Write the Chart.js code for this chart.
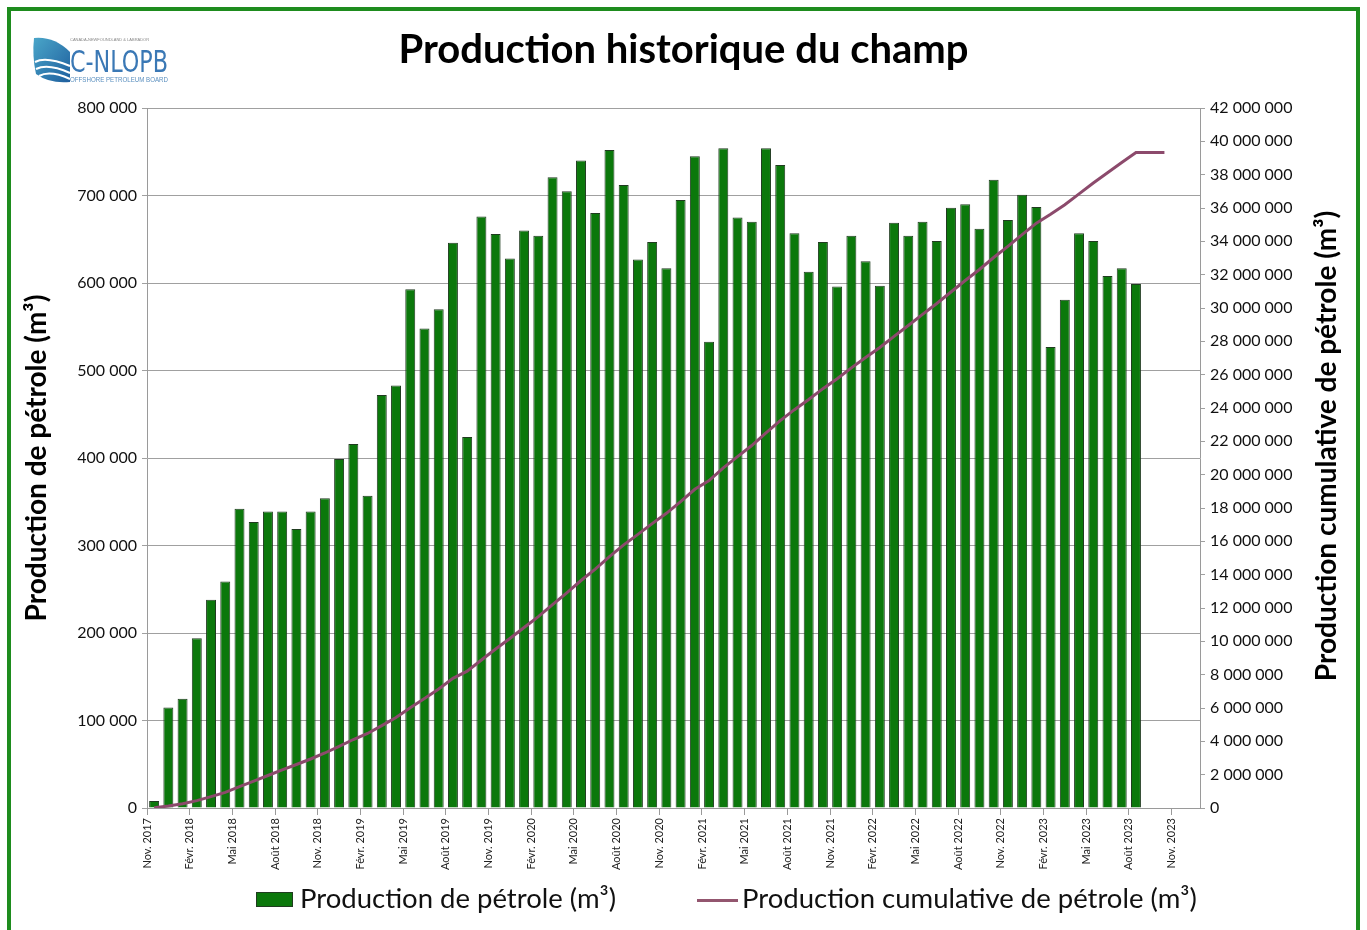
<!DOCTYPE html>
<html lang="fr">
<head>
<meta charset="utf-8">
<title>Production historique du champ</title>
<script src="https://cdn.jsdelivr.net/npm/chart.js@4.4.0/dist/chart.umd.min.js"></script>
<style>
  html, body { margin: 0; padding: 0; background: #fff; }
  body { width: 1367px; height: 930px; position: relative; overflow: hidden; font-family: Lato, sans-serif; }
  #frame { position: absolute; left: 7px; top: 7px; width: 1345px; height: 960px; border: 4px solid #1e8c1e; }
  #wrap { position: absolute; left: 0; top: 0; width: 1367px; height: 930px; }
  #logo { position: absolute; left: 30px; top: 32px; }
  .leg { position: absolute; top: 882px; height: 32px; line-height: 32px; font-size: 27.5px; color: #111; white-space: nowrap; }
  .sw-bar { position: absolute; left: 256px; top: 892px; width: 35px; height: 13px; background: #0b780b; border: 1px solid #203c20; }
  .sw-line { position: absolute; left: 697px; top: 899px; width: 41px; height: 3px; background: #93566f; }
</style>
</head>
<body>
<div id="frame"></div>
<div id="wrap"><canvas id="chart"></canvas></div>

<svg id="logo" width="145" height="56" viewBox="0 0 145 56">
  <defs>
    <linearGradient id="lg" x1="0" y1="0" x2="1" y2="1">
      <stop offset="0" stop-color="#4aa6c9"/>
      <stop offset="1" stop-color="#1f5f9e"/>
    </linearGradient>
  </defs>
  <path d="M4 6 Q24 4 40 20 L40 50 Q20 52 6 42 Q2 24 4 6 Z" fill="url(#lg)"/>
  <path d="M5 30 Q16 24 40 34" stroke="#fff" stroke-width="2" fill="none"/>
  <path d="M6 37 Q18 31 40 41" stroke="#fff" stroke-width="2" fill="none"/>
  <path d="M9 44 Q20 38 40 47" stroke="#fff" stroke-width="2" fill="none"/>
  <text x="40" y="9" font-size="4" fill="#888" font-family="Liberation Sans">CANADA-NEWFOUNDLAND &amp; LABRADOR</text>
  <text x="40" y="40" font-size="31" fill="#3a78b5" font-family="Liberation Sans Narrow, DejaVu Sans Condensed, sans-serif" textLength="98" lengthAdjust="spacingAndGlyphs">C-NLOPB</text>
  <text x="40" y="50" font-size="7" fill="#5a8fbf" font-family="Liberation Sans Narrow, sans-serif" textLength="98" lengthAdjust="spacingAndGlyphs">OFFSHORE PETROLEUM BOARD</text>
</svg>

<div class="sw-bar"></div>
<div class="leg" style="left:300px">Production de pétrole (m³)</div>
<div class="sw-line"></div>
<div class="leg" style="left:742px">Production cumulative de pétrole (m³)</div>

<script>
// axis tick labels, one every 3 months starting Nov. 2017
const tickLabels = ["Nov. 2017", "Févr. 2018", "Mai 2018", "Août 2018", "Nov. 2018", "Févr. 2019",
  "Mai 2019", "Août 2019", "Nov. 2019", "Févr. 2020", "Mai 2020", "Août 2020", "Nov. 2020",
  "Févr. 2021", "Mai 2021", "Août 2021", "Nov. 2021", "Févr. 2022", "Mai 2022", "Août 2022",
  "Nov. 2022", "Févr. 2023", "Mai 2023", "Août 2023", "Nov. 2023"];

// monthly production (m3), Nov. 2017 -> Août 2023
const production = [8000, 115000, 125000, 194000, 238000, 259000, 342000, 327000, 339000, 339000,
  319000, 339000, 354000, 399000, 416000, 357000, 472000, 483000, 593000, 548000,
  570000, 646000, 424000, 676000, 656000, 628000, 660000, 654000, 721000, 705000,
  740000, 680000, 752000, 712000, 627000, 647000, 617000, 695000, 745000, 533000,
  754000, 675000, 670000, 754000, 735000, 657000, 613000, 647000, 596000, 654000,
  625000, 597000, 669000, 654000, 670000, 648000, 686000, 690000, 662000, 718000,
  672000, 701000, 687000, 527000, 581000, 657000, 648000, 608000, 617000, 599000];

// cumulative production (m3), Nov. 2017 -> Oct. 2023
const cumulative = [10000, 120000, 250000, 440000, 680000, 940000, 1280000, 1610000, 1950000, 2290000,
  2610000, 2940000, 3300000, 3700000, 4110000, 4470000, 4940000, 5430000, 6020000, 6570000,
  7140000, 7780000, 8210000, 8880000, 9540000, 10170000, 10830000, 11480000, 12200000, 12910000,
  13650000, 14330000, 15080000, 15790000, 16420000, 17060000, 17680000, 18380000, 19120000, 19650000,
  20410000, 21080000, 21750000, 22510000, 23240000, 23900000, 24510000, 25160000, 25760000, 26410000,
  27030000, 27630000, 28300000, 28950000, 29620000, 30270000, 30960000, 31650000, 32310000, 33030000,
  33700000, 34400000, 35090000, 35620000, 36200000, 36850000, 37500000, 38110000, 38730000, 39330000,
  39330000, 39330000];

function fmt(v) {
  return String(v).replace(/\B(?=(\d{3})+(?!\d))/g, ' ');
}

Chart.defaults.font.family = 'Lato';
Chart.defaults.color = '#111';

// right axis title reads bottom-to-top like the left one
const rightTitle = {
  id: 'rightTitle',
  afterDraw(chart) {
    const ctx = chart.ctx;
    const area = chart.chartArea;
    ctx.save();
    ctx.translate(chart.scales.y1.right - 40, (area.top + area.bottom) / 2 - 12);
    ctx.rotate(-Math.PI / 2);
    ctx.font = 'bold 28px Lato';
    ctx.textAlign = 'center';
    ctx.textBaseline = 'middle';
    ctx.fillStyle = '#000';
    ctx.fillText('Production cumulative de pétrole (m³)', 0, 0);
    ctx.restore();
  }
};

new Chart(document.getElementById('chart'), {
  type: 'bar',
  data: {
    datasets: [
      {
        type: 'line',
        label: 'Production cumulative de pétrole (m³)',
        data: cumulative.map((v, i) => ({ x: i + 0.5, y: v })),
        yAxisID: 'y1',
        borderColor: '#8c4a6c',
        borderWidth: 3,
        pointRadius: 0,
        tension: 0,
        order: 0
      },
      {
        type: 'bar',
        label: 'Production de pétrole (m³)',
        data: production.map((v, i) => ({ x: i + 0.5, y: v })),
        yAxisID: 'y',
        backgroundColor: '#0b780b',
        borderColor: '#203c20',
        borderWidth: 1,
        barPercentage: 0.7,
        categoryPercentage: 1,
        order: 1
      }
    ]
  },
  options: {
    responsive: true,
    maintainAspectRatio: false,
    animation: false,
    layout: { padding: { top: 0, left: 0, right: 0, bottom: 52 } },
    plugins: {
      legend: { display: false },
      tooltip: { enabled: false },
      title: {
        display: true,
        text: 'Production historique du champ',
        color: '#000',
        font: { size: 40, weight: 'bold' },
        padding: { top: 26, bottom: 34 }
      }
    },
    scales: {
      x: {
        type: 'linear',
        min: 0,
        max: 74,
        offset: false,
        afterBuildTicks: s => { s.ticks = tickLabels.map((t, i) => ({ value: i * 3 })); },
        afterFit: s => { s.height = 70; },
        grid: { drawOnChartArea: false, drawTicks: true, tickLength: 7, color: '#9a9a9a', offset: false },
        border: { color: '#9a9a9a' },
        ticks: {
          autoSkip: false,
          minRotation: 90,
          maxRotation: 90,
          padding: 3,
          font: { size: 11 },
          color: '#222',
          callback: (v, i) => tickLabels[i]
        }
      },
      y: {
        position: 'left',
        min: 0,
        max: 800000,
        afterFit: s => { s.width = 147; },
        grid: { color: '#a0a0a0', tickLength: 5 },
        border: { color: '#9a9a9a' },
        ticks: { stepSize: 100000, padding: 5, font: { size: 16 }, callback: v => fmt(v) },
        title: {
          display: true,
          text: 'Production de pétrole (m³)',
          color: '#000',
          font: { size: 28, weight: 'bold' },
          padding: { top: 20, bottom: 0 }
        }
      },
      y1: {
        position: 'right',
        min: 0,
        max: 42000000,
        afterFit: s => { s.width = 167; },
        grid: { drawOnChartArea: false, tickLength: 5, color: '#a0a0a0' },
        border: { color: '#9a9a9a' },
        ticks: { stepSize: 2000000, padding: 5, font: { size: 16 }, callback: v => fmt(v) }
      }
    }
  },
  plugins: [rightTitle]
});
</script>
</body>
</html>
